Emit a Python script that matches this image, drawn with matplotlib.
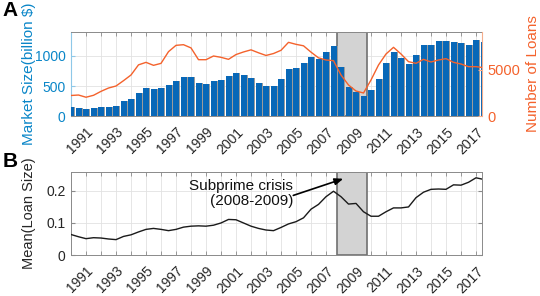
import numpy as np
import matplotlib
matplotlib.use('Agg')
import matplotlib.pyplot as plt

# ---------------- data ----------------
years = np.arange(1990, 2018, 0.5)
market_size = [149, 133, 110, 133, 149, 149, 166, 243, 282, 376,
               459, 448, 459, 519, 591, 655, 652, 545, 530, 580,
               600, 670, 709, 676, 626, 545, 505, 506, 611, 778,
               800, 878, 978, 944, 1072, 1167, 822, 489, 406, 339,
               428, 617, 878, 1072, 961, 867, 1017, 1183, 1178, 1250,
               1256, 1239, 1211, 1189, 1267, 1225]
num_loans = [2230, 2280, 2040, 2250, 2680, 3040, 3260, 3840, 4457, 5560,
             5830, 5507, 5720, 6993, 7680, 7750, 7400, 6120, 6120, 6522,
             6377, 6159, 6680, 6960, 7190, 6870, 6580, 6790, 7140, 8007,
             7790, 7630, 6940, 6320, 6087, 6014, 4457, 3370, 2717, 2500,
             3913, 5543, 6739, 7464, 6739, 5906, 5725, 6159, 5870, 6087,
             6232, 5833, 5652, 5362, 5362, 5254]
mean_loan_size = [0.064, 0.057, 0.051, 0.054, 0.053, 0.050, 0.048, 0.058, 0.063, 0.072,
                  0.080, 0.083, 0.080, 0.076, 0.080, 0.087, 0.090, 0.091, 0.090, 0.093,
                  0.100, 0.111, 0.110, 0.100, 0.090, 0.083, 0.078, 0.076, 0.086, 0.097,
                  0.104, 0.116, 0.143, 0.158, 0.182, 0.199, 0.182, 0.159, 0.161, 0.135,
                  0.121, 0.121, 0.135, 0.147, 0.147, 0.150, 0.179, 0.196, 0.205, 0.206,
                  0.205, 0.219, 0.218, 0.227, 0.241, 0.236]
tick_years = list(range(1990, 2018))
tick_labels = [str(y) if y % 2 == 1 else '' for y in tick_years]
crisis = (2007.75, 2009.75)
left_ticks = [0, 500, 1000]
right_ticks = [0, 5000]
bottom_ticks = [0, 0.1, 0.2]
bottom_tick_labels = ['0', '0.1', '0.2']
annot_text = 'Subprime crisis\n(2008-2009)'
arrow_tail = (2004.82, 0.186)
arrow_head = (2008.15, 0.238)

plt.rcParams['font.family'] = ['Liberation Sans', 'DejaVu Sans']

BLUE = '#0868B8'
BLUE_T = '#0A86C8'
ORANGE = '#F4622C'
GRID = '#e2e2e2'
FRAME = '#8a8a8a'
TXT = '#262626'

fig = plt.figure(figsize=(5.4, 2.96), dpi=100)
ax1 = fig.add_axes([0.1315, 0.6081, 0.7611, 0.2838])
ax2 = fig.add_axes([0.1315, 0.1385, 0.7611, 0.2814])
XLIM = (1990, 2017.4)


def style_x(ax):
    ax.set_xlim(*XLIM)
    ax.set_xticks(tick_years)
    ax.set_xticklabels(tick_labels)
    ax.tick_params(axis='x', direction='in', length=3, top=True, labelsize=10,
                   pad=6.5, colors=FRAME, labelcolor=TXT, width=0.6)
    for lab in ax.get_xticklabels():
        lab.set_rotation(45)
        lab.set_ha('right')
        lab.set_va('top')
        lab.set_rotation_mode('anchor')
    ax.set_axisbelow(True)
    ax.grid(True, color=GRID, lw=0.6, zorder=0)
    for s in ('top', 'bottom'):
        ax.spines[s].set_color(FRAME)
        ax.spines[s].set_linewidth(0.7)


# ---------------- panel A ----------------
style_x(ax1)
ax1.axvspan(*crisis, facecolor='#d3d3d3', edgecolor='#707070', lw=1.2, zorder=1)
ax1.bar(years + 0.07, market_size, width=0.4, color='#9c9c9c', zorder=2)
ax1.bar(years, market_size, width=0.4, color=BLUE, zorder=3)
ax1.set_ylim(0, 1400)
ax1.set_yticks(left_ticks)
ax1.tick_params(axis='y', direction='in', length=3, labelsize=10, pad=4,
                colors='#8ec8e8', labelcolor=BLUE_T)
ax1.spines['left'].set_color('#8ec8e8')
ax1.spines['right'].set_visible(False)
ax1.set_ylabel('Market Size(billion $)', color=BLUE_T, fontsize=11)
ax1.yaxis.set_label_coords(-0.086, 0.5)

ax1r = ax1.twinx()
ax1r.plot(years, num_loans, color=ORANGE, lw=1.0, zorder=4)
ax1r.set_ylim(0, 9130)
ax1r.set_yticks(right_ticks)
ax1r.tick_params(axis='y', direction='in', length=3, labelsize=10.5, pad=4,
                 colors='#f5ad8c', labelcolor=ORANGE)
for s in ('left', 'top', 'bottom'):
    ax1r.spines[s].set_visible(False)
ax1r.spines['right'].set_color('#f5ad8c')
ax1r.set_ylabel('Number of Loans', color=ORANGE, fontsize=11, rotation=90)
ax1r.yaxis.set_label_coords(1.108, 0.5)

# ---------------- panel B ----------------
style_x(ax2)
ax2.axvspan(*crisis, facecolor='#d3d3d3', edgecolor='#707070', lw=1.2, zorder=1)
ax2.plot(years, mean_loan_size, color='#1a1a1a', lw=1.0, zorder=3)
ax2.set_ylim(0, 0.26)
ax2.set_yticks(bottom_ticks)
ax2.set_yticklabels(bottom_tick_labels)
ax2.tick_params(axis='y', direction='in', length=3, labelsize=10, pad=4,
                right=True, colors=FRAME, labelcolor=TXT)
for s in ('left', 'right'):
    ax2.spines[s].set_color(FRAME)
    ax2.spines[s].set_linewidth(0.7)
ax2.set_ylabel('Mean(Loan Size)', color=TXT, fontsize=10.5)
ax2.yaxis.set_label_coords(-0.086, 0.5)

ax2.text(arrow_tail[0] - 0.02, 0.192, annot_text, ha='right', va='center',
         multialignment='right', fontsize=11, color='#111111', linespacing=1.05,
         zorder=5)
ax2.annotate('', xy=arrow_head, xytext=arrow_tail,
             arrowprops=dict(arrowstyle='-|>,head_length=0.5,head_width=0.2',
                             color='black', lw=1.2, shrinkA=0, shrinkB=0),
             zorder=5)

fig.text(0.004, 0.998, 'A', fontsize=15, fontweight='bold', va='top', ha='left')
fig.text(0.004, 0.486, 'B', fontsize=15, fontweight='bold', va='top', ha='left')

fig.savefig('out.png', dpi=100)
